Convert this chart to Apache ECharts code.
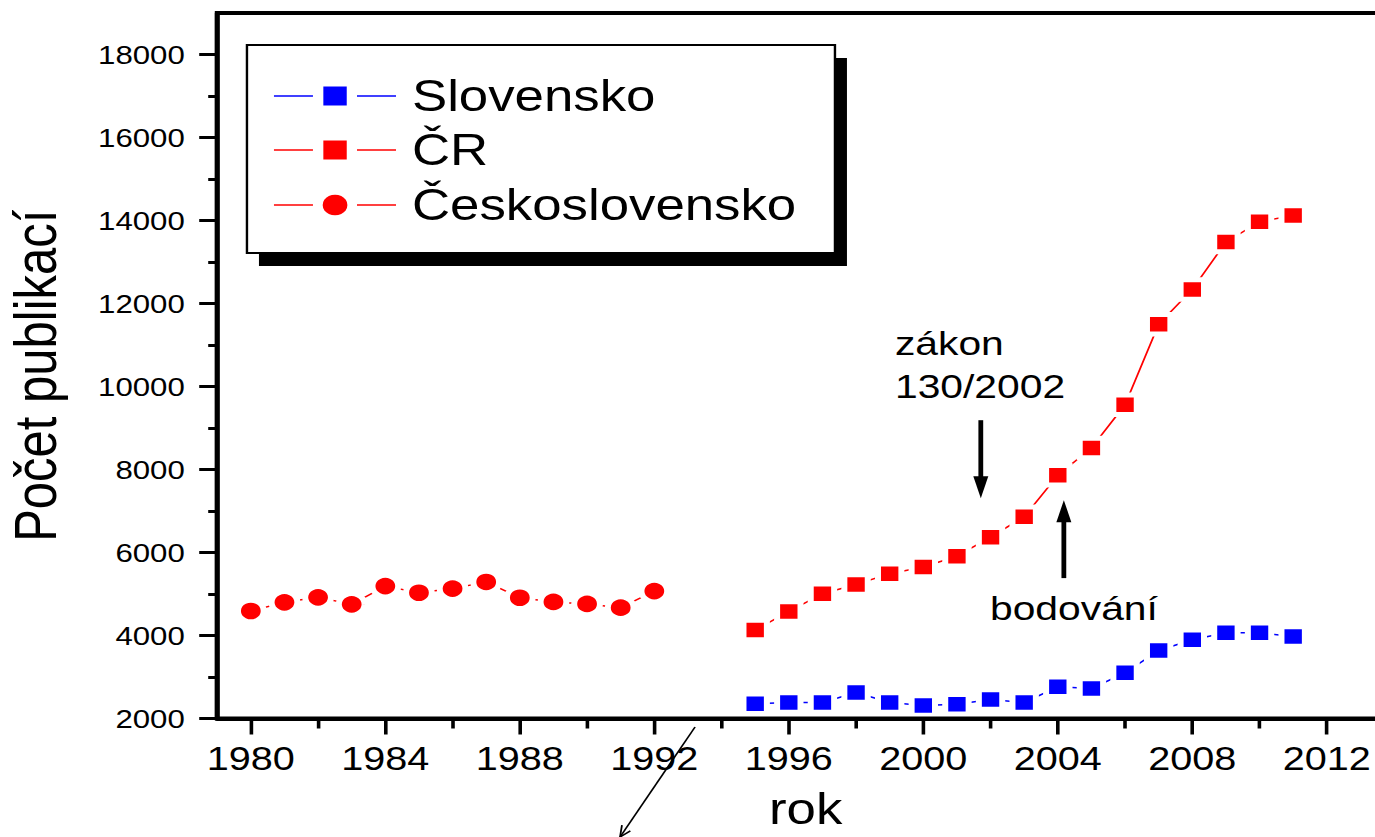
<!DOCTYPE html>
<html><head><meta charset="utf-8">
<script src="https://cdn.jsdelivr.net/npm/echarts@6/dist/echarts.min.js"></script>
<style>
html,body{margin:0;padding:0;background:#fff;overflow:hidden;}
#wrap{width:1375px;height:837px;overflow:hidden;position:relative;background:#fff;}
#chart{width:1146px;height:837px;transform:scaleX(1.2);transform-origin:0 0;}
</style></head><body>
<div id="wrap"><div id="chart"></div></div>
<script>
// ---- data ----
const csYears  = [1980,1981,1982,1983,1984,1985,1986,1987,1988,1989,1990,1991,1992];
const csValues = [4590,4800,4920,4750,5190,5030,5130,5290,4910,4810,4760,4670,5070];
const crYears  = [1995,1996,1997,1998,1999,2000,2001,2002,2003,2004,2005,2006,2007,2008,2009,2010,2011];
const crValues = [4130,4580,5005,5230,5490,5650,5910,6370,6860,7860,8520,9560,11500,12340,13480,13970,14120];
const skYears  = [1995,1996,1997,1998,1999,2000,2001,2002,2003,2004,2005,2006,2007,2008,2009,2010,2011];
const skValues = [2354,2386,2386,2627,2386,2313,2345,2458,2386,2764,2723,3101,3639,3896,4065,4065,3976];
const xMajorTicks = [1980,1984,1988,1992,1996,2000,2004,2008,2012];
const xMinorTicks = [1982,1986,1990,1994,1998,2002,2006,2010];
const yMajorTicks = [2000,4000,6000,8000,10000,12000,14000,16000,18000];
const yMinorTicks = [3000,5000,7000,9000,11000,13000,15000,17000];
const seriesNames = ['Slovensko','ČR','Československo'];
const xTitle = 'rok';
const yTitle = 'Počet publikací';
const noteLaw = ['zákon','130/2002'];
const notePoints = 'bodování';
const arrowLaw = {year:2001.71, from:9188, to:7309};
const arrowPoints = {year:2004.18, from:5383, to:7261};

const FONT = "'Liberation Sans', Arial, sans-serif";
const BLUE = '#0000ff', RED = '#ff0000';
const pairs = (xs, ys) => xs.map((x,i)=>[x, ys[i]]);

const chart = echarts.init(document.getElementById('chart'), null, {renderer:'svg'});

const xBase = {type:'value', min:1979, max:2014, gridIndex:0, position:'bottom', z:10,
  splitLine:{show:false}, axisLine:{onZero:false}};
const yBase = {type:'value', min:2000, max:19000, gridIndex:0, position:'left', z:10,
  splitLine:{show:false}, axisLine:{onZero:false}};

const HALO = 5;
function lineSeries(name, data, color, symbol, size){
  return {
    name, type:'line', data, xAxisIndex:0, yAxisIndex:0,
    symbol, symbolSize:size + HALO, showSymbol:true, silent:true,
    itemStyle:{color, borderColor:'#fff', borderWidth:HALO, opacity:1},
    lineStyle:{color, width:1.5},
    emphasis:{disabled:true}, animation:false, z:3
  };
}

chart.setOption({
  animation:false,
  backgroundColor:'#fff',
  grid:{left:181, top:13, width:980.7, height:705.5, containLabel:false, outerBoundsMode:'none',
    show:true, borderColor:'#000', borderWidth:4, backgroundColor:'transparent', z:10},
  xAxis:[
    Object.assign({}, xBase, {
      axisLine:{show:true, onZero:false, lineStyle:{color:'#000', width:4}},
      axisTick:{show:true, customValues:xMajorTicks, length:16, inside:false, lineStyle:{color:'#000', width:3}},
      axisLabel:{show:true, customValues:xMajorTicks, margin:24, fontSize:33, color:'#000', fontFamily:FONT,
        formatter:v=>String(v)},
      name:xTitle, nameLocation:'middle', nameGap:68,
      nameTextStyle:{fontSize:44, color:'#000', fontFamily:FONT}
    }),
    Object.assign({}, xBase, {
      axisLine:{show:false, onZero:false},
      axisTick:{show:true, customValues:xMinorTicks, length:10, inside:false, lineStyle:{color:'#000', width:3}},
      axisLabel:{show:false}
    })
  ],
  yAxis:[
    Object.assign({}, yBase, {
      axisLine:{show:true, onZero:false, lineStyle:{color:'#000', width:4}},
      axisTick:{show:true, customValues:yMajorTicks, length:15, inside:false, lineStyle:{color:'#000', width:3}},
      axisLabel:{show:true, customValues:yMajorTicks, margin:27, fontSize:26, color:'#000', fontFamily:FONT,
        formatter:v=>String(v)},
      name:yTitle, nameLocation:'middle', nameGap:127, nameRotate:90,
      nameTextStyle:{fontSize:49, color:'#000', fontFamily:FONT, padding:[0,20,0,0]}
    }),
    Object.assign({}, yBase, {
      axisLine:{show:false, onZero:false},
      axisTick:{show:true, customValues:yMinorTicks, length:7.5, inside:false, lineStyle:{color:'#000', width:3}},
      axisLabel:{show:false}
    })
  ],
  series:[
    lineSeries(seriesNames[0], pairs(skYears, skValues), BLUE, 'rect', 14.5),
    lineSeries(seriesNames[1], pairs(crYears, crValues), RED, 'rect', 14.5),
    lineSeries(seriesNames[2], pairs(csYears, csValues), RED, 'circle', 16.5)
  ]
});

// ---- annotations & legend ----
function arrow(a){
  const p = chart.convertToPixel({gridIndex:0}, [a.year, a.from]);
  const t = chart.convertToPixel({gridIndex:0}, [a.year, a.to]);
  const dir = t[1] > p[1] ? 1 : -1;
  const headLen = 22, halfW = 6.25;
  return [
    {type:'line', z:10, silent:true, shape:{x1:p[0], y1:p[1], x2:t[0], y2:t[1]-dir*(headLen-2)},
      style:{stroke:'#000', lineWidth:4}},
    {type:'polygon', z:10, silent:true, shape:{points:[[t[0], t[1]], [t[0]-halfW, t[1]-dir*headLen], [t[0]+halfW, t[1]-dir*headLen]]},
      style:{fill:'#000'}}
  ];
}

const legendX = 205.8, legendY = 45, legendW = 490, legendH = 208;
const rowY = [96, 150, 205];
const rowColor = [BLUE, RED, RED];
const rowSym = ['rect','rect','circle'];
const legendEls = [
  {type:'rect', z:20, silent:true, shape:{x:legendX+10, y:legendY+13, width:legendW, height:legendH}, style:{fill:'#000'}},
  {type:'rect', z:21, silent:true, shape:{x:legendX, y:legendY, width:legendW, height:legendH},
    style:{fill:'#fff', stroke:'#000', lineWidth:2}}
];
seriesNames.forEach((n,i)=>{
  const y = rowY[i], c = rowColor[i];
  legendEls.push({type:'line', z:22, silent:true, shape:{x1:228.3, y1:y, x2:260.8, y2:y}, style:{stroke:c, lineWidth:1.5}});
  legendEls.push({type:'line', z:22, silent:true, shape:{x1:297.5, y1:y, x2:330, y2:y}, style:{stroke:c, lineWidth:1.5}});
  if (rowSym[i]==='rect'){
    legendEls.push({type:'rect', z:22, silent:true, shape:{x:279.2-9.75, y:y-9.5, width:19.5, height:19}, style:{fill:c}});
  } else {
    legendEls.push({type:'circle', z:22, silent:true, shape:{cx:279.2, cy:y, r:10.3}, style:{fill:c}});
  }
  legendEls.push({type:'text', z:22, silent:true, style:{x:343.3, y:y, text:n, fill:'#000',
    font:'44px '+FONT, textAlign:'left', textVerticalAlign:'middle'}});
});

const noteEls = [
  {type:'text', z:10, silent:true, style:{x:745.8, y:343, text:noteLaw[0], fill:'#000', font:'34px '+FONT, textAlign:'left', textVerticalAlign:'middle'}},
  {type:'text', z:10, silent:true, style:{x:745.8, y:386, text:noteLaw[1], fill:'#000', font:'34px '+FONT, textAlign:'left', textVerticalAlign:'middle'}},
  {type:'text', z:10, silent:true, style:{x:825, y:608, text:notePoints, fill:'#000', font:'34px '+FONT, textAlign:'left', textVerticalAlign:'middle'}},
  {type:'polyline', z:10, silent:true, shape:{points:[[579.2,727],[516.7,837]]}, style:{stroke:'#000', lineWidth:1.5, fill:null}},
  {type:'polyline', z:10, silent:true, shape:{points:[[525.3,830.9],[516.7,837],[518.3,825.1]]}, style:{stroke:'#000', lineWidth:1.5, fill:null}}
];

chart.setOption({graphic: [].concat(arrow(arrowLaw), arrow(arrowPoints), legendEls, noteEls)});
</script>
</body></html>
